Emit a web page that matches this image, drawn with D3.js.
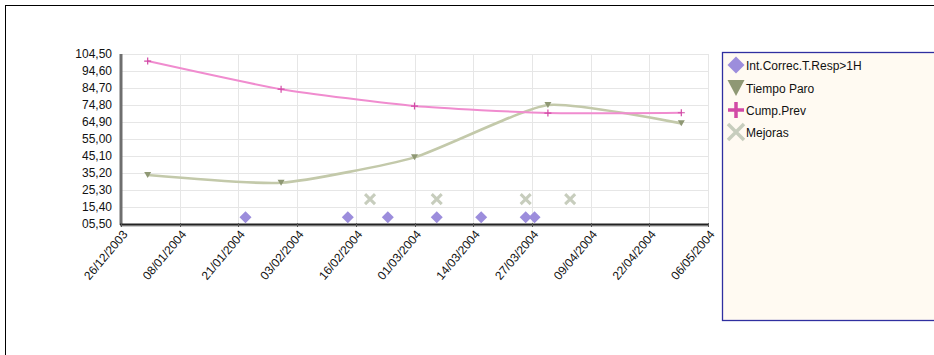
<!DOCTYPE html>
<html>
<head>
<meta charset="utf-8">
<script src="https://cdn.jsdelivr.net/npm/d3@7"></script>
<style>
  html, body { margin: 0; padding: 0; background: #fff; }
  svg { display: block; font-family: "Liberation Sans", Arial, sans-serif; }
</style>
</head>
<body>
<svg id="chart" width="934" height="355"></svg>
<script>
// Axis labels
const xTickLabels = ["26/12/2003", "08/01/2004", "21/01/2004", "03/02/2004", "16/02/2004",
  "01/03/2004", "14/03/2004", "27/03/2004", "09/04/2004", "22/04/2004", "06/05/2004"];
const yTickValues = [5.5, 15.4, 25.3, 35.2, 45.1, 55.0, 64.9, 74.8, 84.7, 94.6, 104.5];
const yTickLabels = ["05,50", "15,40", "25,30", "35,20", "45,10", "55,00",
  "64,90", "74,80", "84,70", "94,60", "104,50"];

// Series
const seriesNames = ["Int.Correc.T.Resp>1H", "Tiempo Paro", "Cump.Prev", "Mejoras"];

const intDates = ["2004-01-23", "2004-02-15", "2004-02-24", "2004-03-06", "2004-03-16", "2004-03-26", "2004-03-28"];
const intValues = [9.5, 9.5, 9.5, 9.5, 9.5, 9.5, 9.5];

const paroDates = ["2004-01-01", "2004-01-31", "2004-03-01", "2004-03-31", "2004-04-30"];
const paroValues = [34.0, 29.5, 44.3, 74.8, 64.1];

const cumpDates = ["2004-01-01", "2004-01-31", "2004-03-01", "2004-03-31", "2004-04-30"];
const cumpValues = [100.4, 84.0, 74.2, 70.1, 70.3];

const mejorasDates = ["2004-02-20", "2004-03-06", "2004-03-26", "2004-04-05"];
const mejorasValues = [20, 20, 20, 20];

const parse = d3.utcParse("%Y-%m-%d");
const zip = (ds, vs) => ds.map((d, i) => ({ date: parse(d), value: vs[i] }));

const svg = d3.select("#chart");
const plot = { left: 121, right: 708, top: 54, bottom: 224 };

const start = parse("2003-12-26"), end = parse("2004-05-06");
const x = d3.scaleUtc().domain([start, end]).range([plot.left, plot.right]);
const y = d3.scaleLinear().domain([5.5, 104.5]).range([plot.bottom, plot.top]);

const dayMs = 864e5;
const stepDays = (end - start) / dayMs / (xTickLabels.length - 1);
const xTicks = xTickLabels.map((l, i) => new Date(+start + i * stepDays * dayMs));

// Outer frame
svg.append("rect").attr("x", 5.5).attr("y", 5.5).attr("width", 1000).attr("height", 400)
  .attr("fill", "#fff").attr("stroke", "#000").attr("stroke-width", 1);

// Grid
const grid = svg.append("g");
grid.selectAll("line.h").data(yTickValues).join("line")
  .attr("x1", plot.left).attr("x2", plot.right)
  .attr("y1", d => Math.round(y(d)) + 0.5).attr("y2", d => Math.round(y(d)) + 0.5)
  .attr("stroke", "#e6e6e6");
grid.selectAll("line.v").data(xTicks.slice(1)).join("line")
  .attr("y1", plot.top).attr("y2", plot.bottom)
  .attr("x1", d => Math.round(x(d)) + 0.5).attr("x2", d => Math.round(x(d)) + 0.5)
  .attr("stroke", "#e6e6e6");

// Y axis labels
svg.append("g").selectAll("text").data(yTickValues).join("text")
  .attr("x", 112).attr("y", d => y(d)).attr("dy", "0.35em")
  .attr("text-anchor", "end").attr("font-size", 12).attr("fill", "#111")
  .text((d, i) => yTickLabels[i]);

// X axis labels (rotated)
svg.append("g").selectAll("text").data(xTicks).join("text")
  .attr("transform", d => `translate(${x(d) + 4},${plot.bottom + 8}) rotate(-50)`)
  .attr("text-anchor", "end").attr("dy", "0.35em")
  .attr("font-size", 12).attr("fill", "#111")
  .text((d, i) => xTickLabels[i]);

// Axis lines
svg.append("line").attr("x1", plot.left).attr("x2", plot.left)
  .attr("y1", plot.top).attr("y2", plot.bottom + 1)
  .attr("stroke", "#6e6e6e").attr("stroke-width", 3);
svg.append("line").attr("x1", plot.left - 1).attr("x2", plot.right + 1)
  .attr("y1", plot.bottom + 2).attr("y2", plot.bottom + 2)
  .attr("stroke", "#9a9a9a").attr("stroke-width", 1);
svg.append("line").attr("x1", plot.left - 1).attr("x2", plot.right + 1)
  .attr("y1", plot.bottom + 0.5).attr("y2", plot.bottom + 0.5)
  .attr("stroke", "#222").attr("stroke-width", 2.2);
svg.append("g").selectAll("line").data(xTicks).join("line")
  .attr("x1", d => Math.round(x(d)) + 0.5).attr("x2", d => Math.round(x(d)) + 0.5)
  .attr("y1", plot.bottom - 1).attr("y2", plot.bottom + 3)
  .attr("stroke", "#555");

// Lines
const line = d3.line().x(d => x(d.date)).y(d => y(d.value)).curve(d3.curveCardinal.tension(0.45));
const paro = zip(paroDates, paroValues);
const cump = zip(cumpDates, cumpValues);

svg.append("path").datum(paro).attr("d", line)
  .attr("fill", "none").attr("stroke", "#c3c9aa").attr("stroke-width", 2.6);
svg.append("path").datum(cump).attr("d", line)
  .attr("fill", "none").attr("stroke", "#f08ccf").attr("stroke-width", 2);

// Marker shapes
function diamond(g, cx, cy, r, fill) {
  g.append("path").attr("d", `M${cx},${cy - r}L${cx + r},${cy}L${cx},${cy + r}L${cx - r},${cy}Z`)
    .attr("fill", fill);
}
function triangleDown(g, cx, cy, w, h, fill) {
  g.append("path").attr("d", `M${cx - w / 2},${cy - h / 2}L${cx + w / 2},${cy - h / 2}L${cx},${cy + h / 2}Z`)
    .attr("fill", fill);
}
function plus(g, cx, cy, r, stroke, sw) {
  g.append("path").attr("d", `M${cx - r},${cy}H${cx + r}M${cx},${cy - r}V${cy + r}`)
    .attr("stroke", stroke).attr("stroke-width", sw).attr("fill", "none");
}
function cross(g, cx, cy, r, stroke, sw) {
  g.append("path").attr("d", `M${cx - r},${cy - r}L${cx + r},${cy + r}M${cx + r},${cy - r}L${cx - r},${cy + r}`)
    .attr("stroke", stroke).attr("stroke-width", sw).attr("fill", "none");
}

const marks = svg.append("g");
paro.forEach(d => triangleDown(marks, x(d.date), y(d.value), 7, 6, "#8f9874"));
cump.forEach(d => plus(marks, x(d.date), y(d.value), 3.5, "#d24aa6", 1.2));
zip(mejorasDates, mejorasValues).forEach(d => cross(marks, x(d.date), y(d.value), 5, "#c7cdbd", 3));
zip(intDates, intValues).forEach(d => diamond(marks, x(d.date), y(d.value), 6, "#9c8ddc"));

// Legend
const lg = svg.append("g");
lg.append("rect").attr("x", 722.5).attr("y", 52.5).attr("width", 260).attr("height", 268)
  .attr("fill", "#fffaf2").attr("stroke", "#2f2fa0").attr("stroke-width", 1.3);
const rowY = [65, 88, 110, 132];
diamond(lg, 736, rowY[0], 8.5, "#9c8ddc");
triangleDown(lg, 736, rowY[1], 17, 16, "#8f9874");
plus(lg, 736, rowY[2], 8, "#d24aa6", 3.5);
cross(lg, 736, rowY[3], 8, "#c7cdbd", 3.5);
lg.selectAll("text").data(seriesNames).join("text")
  .attr("x", 746).attr("y", (d, i) => rowY[i] + 1).attr("dy", "0.35em")
  .attr("font-size", 12).attr("fill", "#111")
  .text(d => d);
</script>
</body>
</html>
